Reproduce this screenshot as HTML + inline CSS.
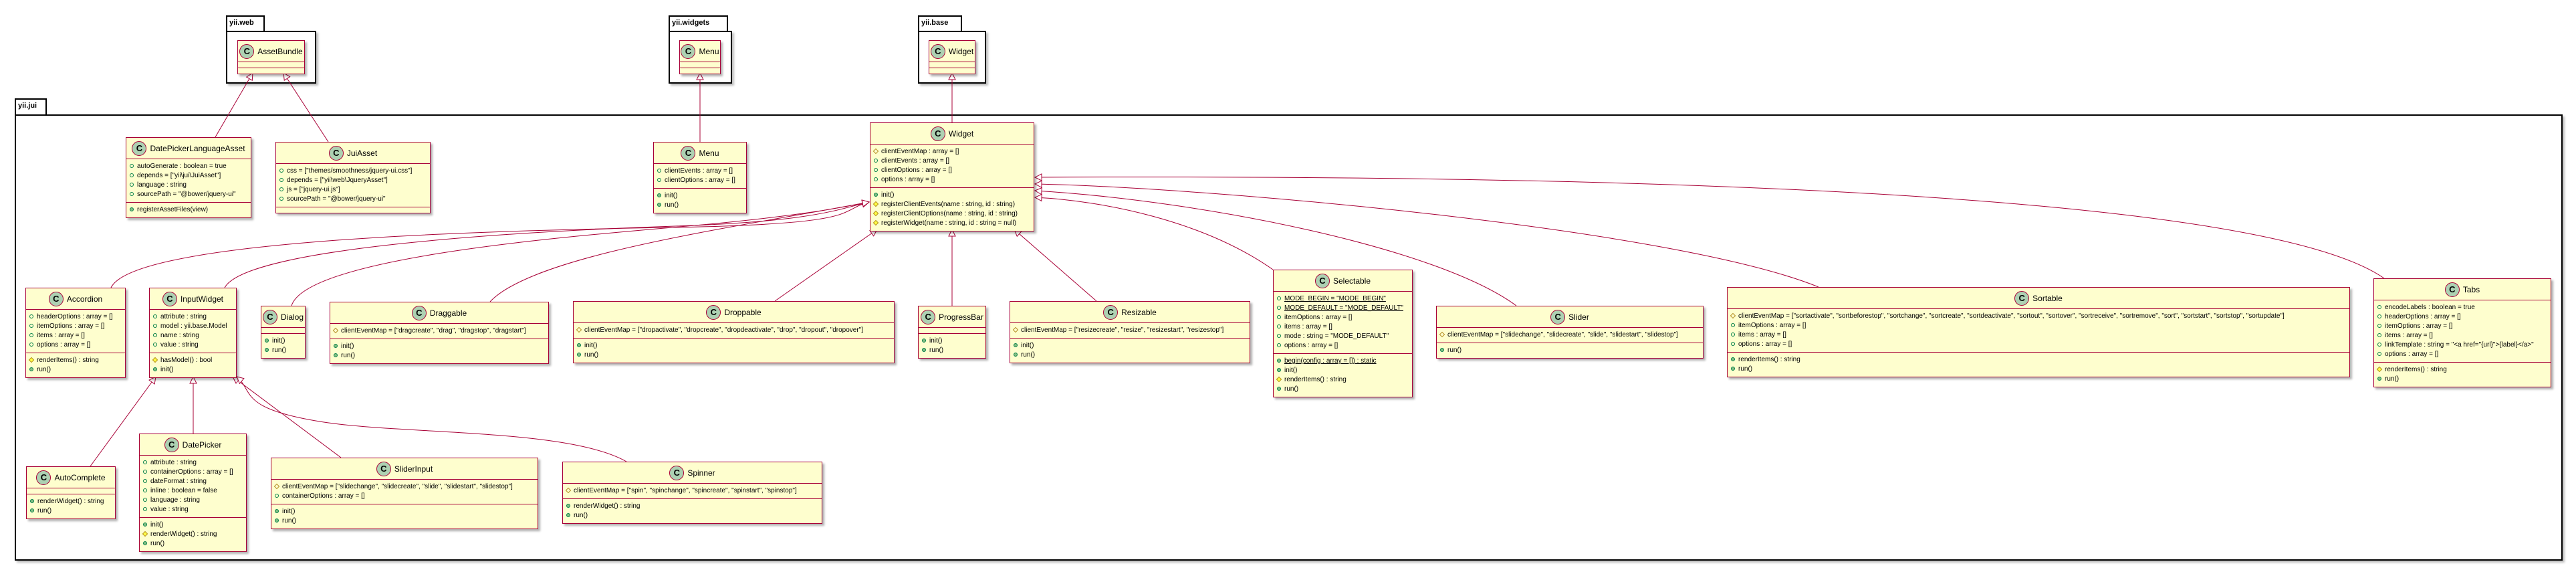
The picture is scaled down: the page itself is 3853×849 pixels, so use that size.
<!DOCTYPE html>
<html><head><meta charset="utf-8">
<style>
html,body{margin:0;padding:0;background:#fff;}
body{width:3853px;height:849px;position:relative;overflow:hidden;font-family:"Liberation Sans",sans-serif;}
.pk{position:absolute;border:2px solid #000;box-sizing:border-box;box-shadow:3px 3px 3px rgba(0,0,0,.25);background:#fff}
.tab{position:absolute;border:2px solid #000;border-bottom:none;box-sizing:border-box;font:bold 11px "Liberation Sans",sans-serif;padding:3px 3px;background:#fff}
.b{position:absolute;background:#FEFECE;border:1.5px solid #A80036;box-shadow:3px 3px 3px rgba(0,0,0,.3);font-size:10px;box-sizing:border-box;overflow:hidden;z-index:2}
.h{height:31px;display:flex;align-items:center;justify-content:center;border-bottom:1.5px solid #A80036;font-size:12px;white-space:nowrap}
.ci{display:inline-block;width:20px;height:20px;border-radius:50%;background:#ADD1B2;border:1px solid #A80036;text-align:center;line-height:20px;font-weight:bold;font-size:13px;margin-right:5px;flex:none}
.c{padding:4px 0;border-bottom:1.5px solid #A80036;min-height:0}
.c:last-child{border-bottom:none}
.r{height:14px;line-height:14px;padding-left:5px;white-space:nowrap}
.v{display:inline-block;width:6px;height:6px;margin-right:5px;vertical-align:middle;box-sizing:border-box}
.po{border:1px solid #038048;border-radius:50%}
.pf{border:1px solid #038048;border-radius:50%;background:#84BE84}
.do{border:1px solid #B38D22;transform:rotate(45deg)}
.df{border:1px solid #B38D22;background:#FFFF44;transform:rotate(45deg)}
.u{text-decoration:underline}
svg{position:absolute;left:0;top:0;z-index:1}
</style></head><body>

<!-- packages -->
<div class="tab" style="left:338px;top:23px;width:58px;height:25px">yii.web</div>
<div class="pk" style="left:338px;top:46px;width:135px;height:79px"></div>
<div class="tab" style="left:1000px;top:23px;width:89px;height:25px">yii.widgets</div>
<div class="pk" style="left:1000px;top:46px;width:95px;height:79px"></div>
<div class="tab" style="left:1373px;top:23px;width:66px;height:25px">yii.base</div>
<div class="pk" style="left:1373px;top:46px;width:102px;height:79px"></div>
<div class="tab" style="left:22px;top:147px;width:48px;height:26px">yii.jui</div>
<div class="pk" style="left:22px;top:171px;width:3811px;height:667px;background:transparent"></div>

<svg width="3853" height="849" viewBox="0 0 3853 849">
<defs>
<marker id="a" viewBox="0 0 12 12" refX="11" refY="6" markerWidth="12" markerHeight="12" markerUnits="userSpaceOnUse" orient="auto">
<path d="M1,1 L11,6 L1,11 z" fill="#fff" stroke="#A80036" stroke-width="1"/></marker>
</defs>
<g fill="none" stroke="#A80036" stroke-width="1" marker-end="url(#a)">
<path d="M322,205 L378,109"/>
<path d="M491,212 L424,109"/>
<path d="M1047,212 L1047,109"/>
<path d="M1424,183 L1424,109"/>
<path d="M166,430 C200,360 700,345 1000,340 S1250,315 1300,302"/>
<path d="M336,430 C370,368 800,345 1010,338 S1255,312 1300,302"/>
<path d="M436,457 C460,380 900,350 1050,336 S1260,310 1300,302"/>
<path d="M733,451 C800,380 1100,340 1300,302"/>
<path d="M1159,450 L1312,343"/>
<path d="M1424,457 L1424,343"/>
<path d="M1640,450 L1517,343"/>
<path d="M1904,403 C1800,330 1650,300 1548,295"/>
<path d="M2268,457 C2150,370 1800,300 1548,285"/>
<path d="M2720,429 C2500,340 1800,280 1548,275"/>
<path d="M3566,416 C3400,300 2600,260 1548,265"/>
<path d="M135,697 L233,563"/>
<path d="M289,648 L289,563"/>
<path d="M510,684 L348,563"/>
<path d="M937,690 C850,640 600,650 478,630 S380,585 354,563"/>
</g>
</svg>

<!-- small boxes -->
<div class="b" style="left:355px;top:60px;width:101px"><div class="h"><span class="ci">C</span>AssetBundle</div><div class="c"></div><div class="c"></div></div>
<div class="b" style="left:1016px;top:60px;width:62px"><div class="h"><span class="ci">C</span>Menu</div><div class="c"></div><div class="c"></div></div>
<div class="b" style="left:1389px;top:60px;width:70px"><div class="h"><span class="ci">C</span>Widget</div><div class="c"></div><div class="c"></div></div>

<div class="b" style="left:188px;top:205px;width:188px"><div class="h"><span class="ci">C</span>DatePickerLanguageAsset</div>
<div class="c"><div class="r"><span class="v po"></span>autoGenerate : boolean = true</div><div class="r"><span class="v po"></span>depends = ["yii\jui\JuiAsset"]</div><div class="r"><span class="v po"></span>language : string</div><div class="r"><span class="v po"></span>sourcePath = "@bower/jquery-ui"</div></div>
<div class="c"><div class="r"><span class="v pf"></span>registerAssetFiles(view)</div></div></div>

<div class="b" style="left:412px;top:212px;width:232px"><div class="h"><span class="ci">C</span>JuiAsset</div>
<div class="c"><div class="r"><span class="v po"></span>css = ["themes/smoothness/jquery-ui.css"]</div><div class="r"><span class="v po"></span>depends = ["yii\web\JqueryAsset"]</div><div class="r"><span class="v po"></span>js = ["jquery-ui.js"]</div><div class="r"><span class="v po"></span>sourcePath = "@bower/jquery-ui"</div></div>
<div class="c"></div></div>

<div class="b" style="left:977px;top:212px;width:140px"><div class="h"><span class="ci">C</span>Menu</div>
<div class="c"><div class="r"><span class="v po"></span>clientEvents : array = []</div><div class="r"><span class="v po"></span>clientOptions : array = []</div></div>
<div class="c"><div class="r"><span class="v pf"></span>init()</div><div class="r"><span class="v pf"></span>run()</div></div></div>

<div class="b" style="left:1301px;top:183px;width:246px"><div class="h"><span class="ci">C</span>Widget</div>
<div class="c"><div class="r"><span class="v do"></span>clientEventMap : array = []</div><div class="r"><span class="v po"></span>clientEvents : array = []</div><div class="r"><span class="v po"></span>clientOptions : array = []</div><div class="r"><span class="v po"></span>options : array = []</div></div>
<div class="c"><div class="r"><span class="v pf"></span>init()</div><div class="r"><span class="v df"></span>registerClientEvents(name : string, id : string)</div><div class="r"><span class="v df"></span>registerClientOptions(name : string, id : string)</div><div class="r"><span class="v df"></span>registerWidget(name : string, id : string = null)</div></div></div>

<div class="b" style="left:38px;top:430px;width:150px"><div class="h"><span class="ci">C</span>Accordion</div>
<div class="c"><div class="r"><span class="v po"></span>headerOptions : array = []</div><div class="r"><span class="v po"></span>itemOptions : array = []</div><div class="r"><span class="v po"></span>items : array = []</div><div class="r"><span class="v po"></span>options : array = []</div></div>
<div class="c"><div class="r"><span class="v df"></span>renderItems() : string</div><div class="r"><span class="v pf"></span>run()</div></div></div>

<div class="b" style="left:223px;top:430px;width:131px"><div class="h"><span class="ci">C</span>InputWidget</div>
<div class="c"><div class="r"><span class="v po"></span>attribute : string</div><div class="r"><span class="v po"></span>model : yii.base.Model</div><div class="r"><span class="v po"></span>name : string</div><div class="r"><span class="v po"></span>value : string</div></div>
<div class="c"><div class="r"><span class="v df"></span>hasModel() : bool</div><div class="r"><span class="v pf"></span>init()</div></div></div>

<div class="b" style="left:390px;top:457px;width:67px"><div class="h"><span class="ci">C</span>Dialog</div><div class="c"></div>
<div class="c"><div class="r"><span class="v pf"></span>init()</div><div class="r"><span class="v pf"></span>run()</div></div></div>

<div class="b" style="left:493px;top:451px;width:328px"><div class="h"><span class="ci">C</span>Draggable</div>
<div class="c"><div class="r"><span class="v do"></span>clientEventMap = ["dragcreate", "drag", "dragstop", "dragstart"]</div></div>
<div class="c"><div class="r"><span class="v pf"></span>init()</div><div class="r"><span class="v pf"></span>run()</div></div></div>

<div class="b" style="left:857px;top:450px;width:481px"><div class="h"><span class="ci">C</span>Droppable</div>
<div class="c"><div class="r"><span class="v do"></span>clientEventMap = ["dropactivate", "dropcreate", "dropdeactivate", "drop", "dropout", "dropover"]</div></div>
<div class="c"><div class="r"><span class="v pf"></span>init()</div><div class="r"><span class="v pf"></span>run()</div></div></div>

<div class="b" style="left:1373px;top:457px;width:102px"><div class="h"><span class="ci">C</span>ProgressBar</div><div class="c"></div>
<div class="c"><div class="r"><span class="v pf"></span>init()</div><div class="r"><span class="v pf"></span>run()</div></div></div>

<div class="b" style="left:1510px;top:450px;width:360px"><div class="h"><span class="ci">C</span>Resizable</div>
<div class="c"><div class="r"><span class="v do"></span>clientEventMap = ["resizecreate", "resize", "resizestart", "resizestop"]</div></div>
<div class="c"><div class="r"><span class="v pf"></span>init()</div><div class="r"><span class="v pf"></span>run()</div></div></div>

<div class="b" style="left:1904px;top:403px;width:209px"><div class="h"><span class="ci">C</span>Selectable</div>
<div class="c"><div class="r"><span class="v po"></span><span class="u">MODE_BEGIN = "MODE_BEGIN"</span></div><div class="r"><span class="v po"></span><span class="u">MODE_DEFAULT = "MODE_DEFAULT"</span></div><div class="r"><span class="v po"></span>itemOptions : array = []</div><div class="r"><span class="v po"></span>items : array = []</div><div class="r"><span class="v po"></span>mode : string = "MODE_DEFAULT"</div><div class="r"><span class="v po"></span>options : array = []</div></div>
<div class="c"><div class="r"><span class="v pf"></span><span class="u">begin(config : array = []) : static</span></div><div class="r"><span class="v pf"></span>init()</div><div class="r"><span class="v df"></span>renderItems() : string</div><div class="r"><span class="v pf"></span>run()</div></div></div>

<div class="b" style="left:2148px;top:457px;width:400px"><div class="h"><span class="ci">C</span>Slider</div>
<div class="c"><div class="r"><span class="v do"></span>clientEventMap = ["slidechange", "slidecreate", "slide", "slidestart", "slidestop"]</div></div>
<div class="c"><div class="r"><span class="v pf"></span>run()</div></div></div>

<div class="b" style="left:2583px;top:429px;width:932px"><div class="h"><span class="ci">C</span>Sortable</div>
<div class="c"><div class="r"><span class="v do"></span>clientEventMap = ["sortactivate", "sortbeforestop", "sortchange", "sortcreate", "sortdeactivate", "sortout", "sortover", "sortreceive", "sortremove", "sort", "sortstart", "sortstop", "sortupdate"]</div><div class="r"><span class="v po"></span>itemOptions : array = []</div><div class="r"><span class="v po"></span>items : array = []</div><div class="r"><span class="v po"></span>options : array = []</div></div>
<div class="c"><div class="r"><span class="v pf"></span>renderItems() : string</div><div class="r"><span class="v pf"></span>run()</div></div></div>

<div class="b" style="left:3550px;top:416px;width:266px"><div class="h"><span class="ci">C</span>Tabs</div>
<div class="c"><div class="r"><span class="v po"></span>encodeLabels : boolean = true</div><div class="r"><span class="v po"></span>headerOptions : array = []</div><div class="r"><span class="v po"></span>itemOptions : array = []</div><div class="r"><span class="v po"></span>items : array = []</div><div class="r"><span class="v po"></span>linkTemplate : string = "&lt;a href="{url}"&gt;{label}&lt;/a&gt;"</div><div class="r"><span class="v po"></span>options : array = []</div></div>
<div class="c"><div class="r"><span class="v df"></span>renderItems() : string</div><div class="r"><span class="v pf"></span>run()</div></div></div>

<div class="b" style="left:39px;top:697px;width:134px"><div class="h"><span class="ci">C</span>AutoComplete</div><div class="c"></div>
<div class="c"><div class="r"><span class="v pf"></span>renderWidget() : string</div><div class="r"><span class="v pf"></span>run()</div></div></div>

<div class="b" style="left:208px;top:648px;width:161px"><div class="h"><span class="ci">C</span>DatePicker</div>
<div class="c"><div class="r"><span class="v po"></span>attribute : string</div><div class="r"><span class="v po"></span>containerOptions : array = []</div><div class="r"><span class="v po"></span>dateFormat : string</div><div class="r"><span class="v po"></span>inline : boolean = false</div><div class="r"><span class="v po"></span>language : string</div><div class="r"><span class="v po"></span>value : string</div></div>
<div class="c"><div class="r"><span class="v pf"></span>init()</div><div class="r"><span class="v df"></span>renderWidget() : string</div><div class="r"><span class="v pf"></span>run()</div></div></div>

<div class="b" style="left:405px;top:684px;width:400px"><div class="h"><span class="ci">C</span>SliderInput</div>
<div class="c"><div class="r"><span class="v do"></span>clientEventMap = ["slidechange", "slidecreate", "slide", "slidestart", "slidestop"]</div><div class="r"><span class="v po"></span>containerOptions : array = []</div></div>
<div class="c"><div class="r"><span class="v pf"></span>init()</div><div class="r"><span class="v pf"></span>run()</div></div></div>

<div class="b" style="left:841px;top:690px;width:389px"><div class="h"><span class="ci">C</span>Spinner</div>
<div class="c"><div class="r"><span class="v do"></span>clientEventMap = ["spin", "spinchange", "spincreate", "spinstart", "spinstop"]</div></div>
<div class="c"><div class="r"><span class="v pf"></span>renderWidget() : string</div><div class="r"><span class="v pf"></span>run()</div></div></div>

</body></html>
